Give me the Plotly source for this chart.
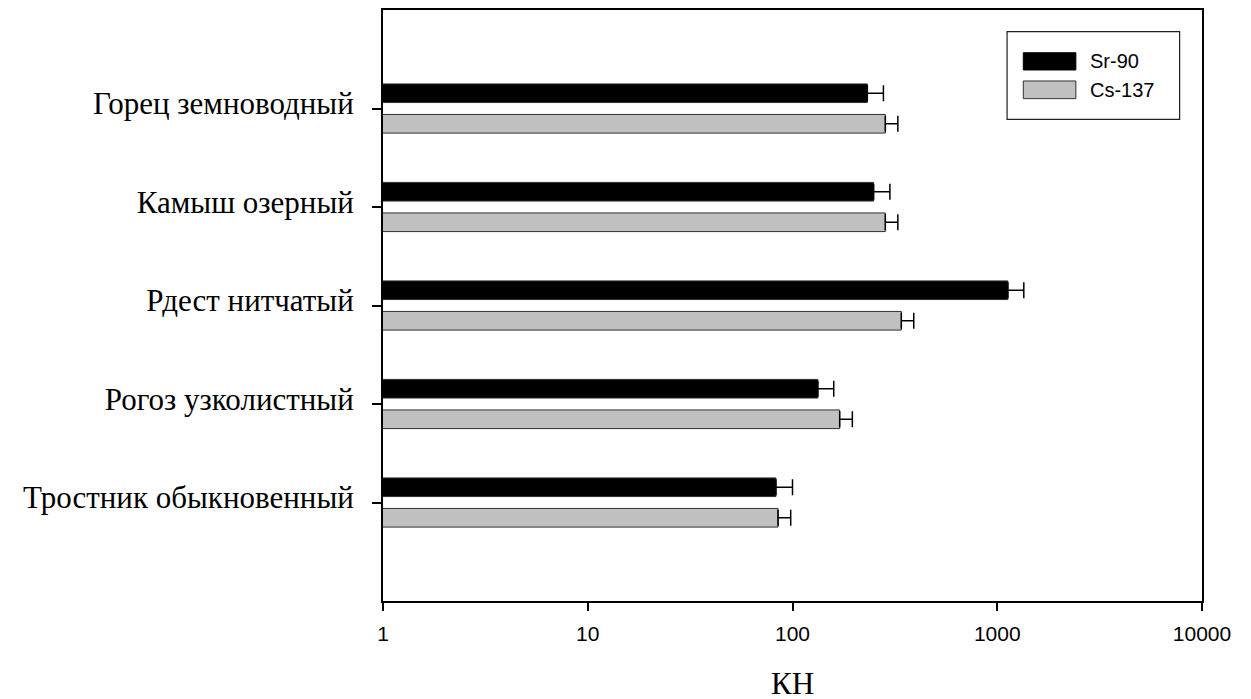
import plotly.graph_objects as go

# ---- data (bottom to top order) ----
categories = ["Тростник обыкновенный", "Рогоз узколистный", "Рдест нитчатый",
              "Камыш озерный", "Горец земноводный"]
sr90 = [83, 133, 1127, 249, 232]
sr90_err = [17, 26, 221, 50, 46]
cs137 = [85, 170, 340, 284, 284]
cs137_err = [13, 26, 51, 43, 43]
series_names = ["Sr-90", "Cs-137"]
x_tickvals = [1, 10, 100, 1000, 10000]
x_ticktext = ["1", "10", "100", "1000", "10000"]
x_title = "КН"

SERIF = "Liberation Serif, Times New Roman, serif"
SANS = "Liberation Sans, Arial, sans-serif"
BLACK = "#000000"
GRAY = "#c0c0c0"

fig = go.Figure()
# Cs-137 first so it sits below Sr-90 within each group
fig.add_trace(go.Bar(
    y=categories, x=cs137, orientation="h", name=series_names[1],
    marker=dict(color=GRAY, line=dict(color="#303030", width=1)),
    error_x=dict(type="data", array=cs137_err, symmetric=False,
                 arrayminus=[0] * len(cs137), color=BLACK, thickness=1.5, width=8),
    showlegend=False,
))
fig.add_trace(go.Bar(
    y=categories, x=sr90, orientation="h", name=series_names[0],
    marker=dict(color=BLACK, line=dict(color="#303030", width=1)),
    error_x=dict(type="data", array=sr90_err, symmetric=False,
                 arrayminus=[0] * len(sr90), color=BLACK, thickness=1.5, width=8),
    showlegend=False,
))

# ---- legend box drawn in paper coordinates ----
shapes = [
    dict(type="rect", xref="paper", yref="paper", x0=0.762, x1=0.9727, y0=0.815, y1=0.9633,
         line=dict(color="#202020", width=1.2), fillcolor="white", layer="above"),
    dict(type="rect", xref="paper", yref="paper", x0=0.7818, x1=0.846, y0=0.8985, y1=0.9277,
         line=dict(color=BLACK, width=1), fillcolor=BLACK, layer="above"),
    dict(type="rect", xref="paper", yref="paper", x0=0.7818, x1=0.846, y0=0.8500, y1=0.8799,
         line=dict(color="#303030", width=1), fillcolor=GRAY, layer="above"),
]
annotations = [
    dict(xref="paper", yref="paper", x=0.8612, y=0.9131, text=series_names[0],
         showarrow=False, xanchor="left", yanchor="middle",
         font=dict(family=SANS, size=20, color=BLACK)),
    dict(xref="paper", yref="paper", x=0.8612, y=0.8650, text=series_names[1],
         showarrow=False, xanchor="left", yanchor="middle",
         font=dict(family=SANS, size=20, color=BLACK)),
]

fig.update_layout(
    width=1251, height=699,
    margin=dict(l=375, r=57, t=2, b=106, autoexpand=False),
    paper_bgcolor="white", plot_bgcolor="white",
    barmode="group", bargap=0.38, bargroupgap=0.39,
    shapes=shapes, annotations=annotations,
    showlegend=False,
)
fig.update_xaxes(
    type="log", range=[0, 4],
    tickvals=x_tickvals, ticktext=x_ticktext,
    ticks="outside", ticklen=8, tickwidth=1.5, tickcolor=BLACK,
    showline=True, linecolor=BLACK, linewidth=2, mirror=True,
    showgrid=False, zeroline=False,
    tickfont=dict(family=SANS, size=21, color=BLACK),
    ticklabelstandoff=5,
    title=dict(text=x_title, font=dict(family=SERIF, size=31, color=BLACK), standoff=28),
)
fig.update_yaxes(
    type="category", categoryorder="array", categoryarray=categories,
    range=[-1, 5],
    ticks="outside", ticklen=9, tickwidth=1.5, tickcolor=BLACK,
    showline=True, linecolor=BLACK, linewidth=2, mirror=True,
    showgrid=False, zeroline=False,
    tickfont=dict(family=SERIF, size=31, color=BLACK),
    ticklabelstandoff=12, ticklabelshift=-5,
)

fig.write_html("out.html")
